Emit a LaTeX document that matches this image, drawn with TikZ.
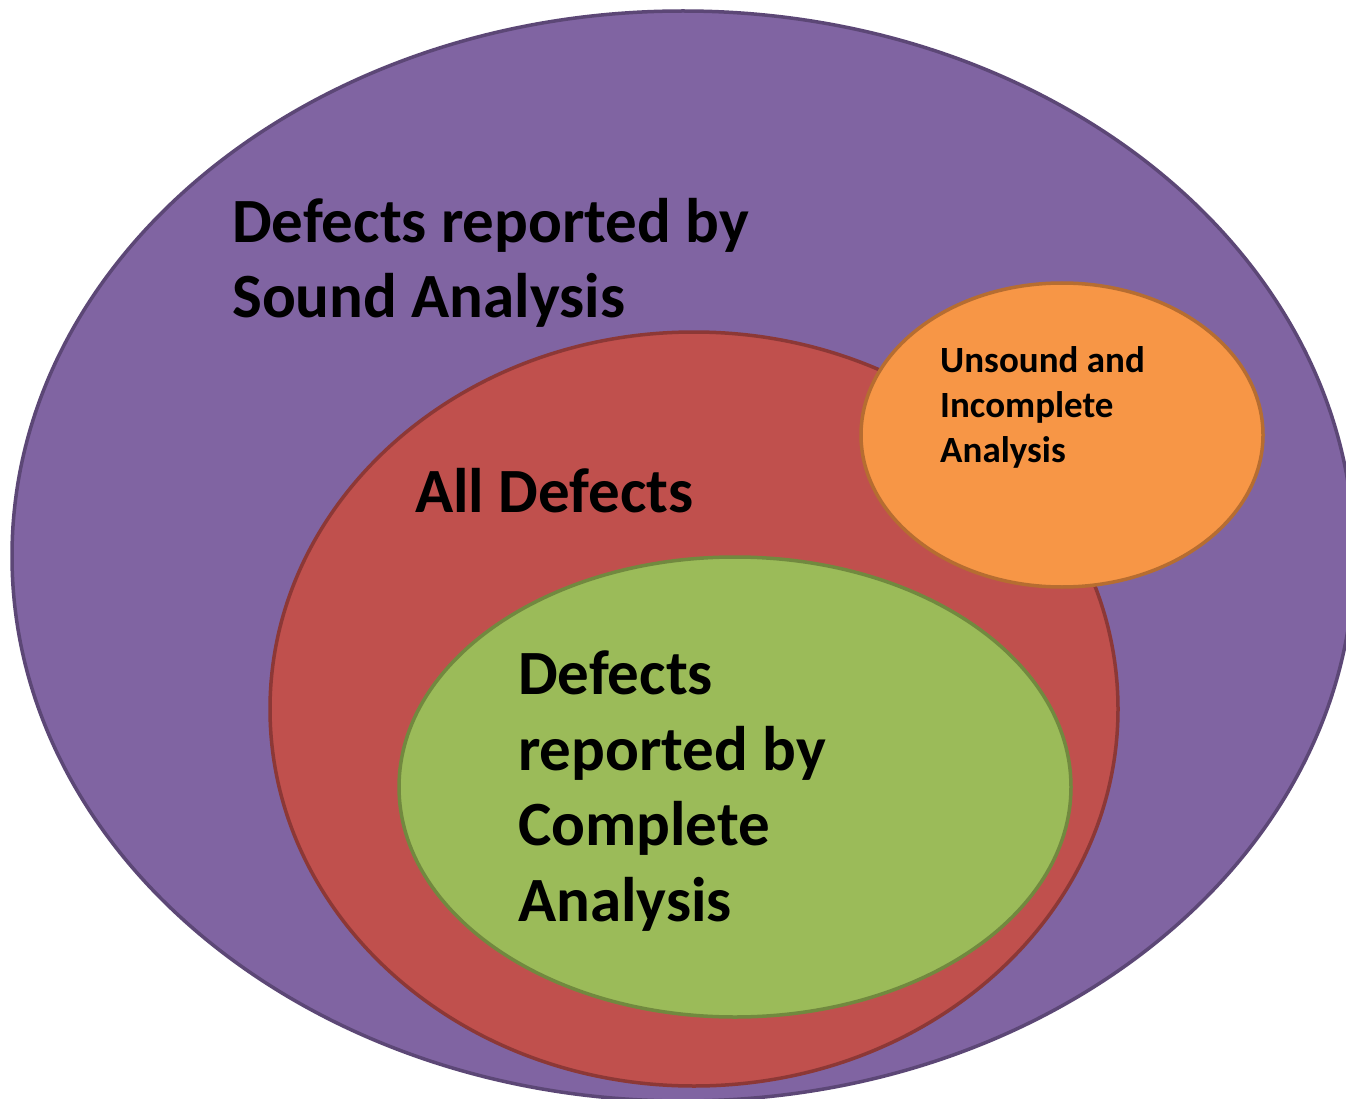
\documentclass[tikz,border=0pt]{standalone}
\usepackage{fontspec}
\setmainfont{Carlito}
\definecolor{purpfill}{HTML}{8064A2}
\definecolor{purpline}{HTML}{5C4776}
\definecolor{redfill}{HTML}{C0504D}
\definecolor{redline}{HTML}{8C3836}
\definecolor{greenfill}{HTML}{9BBB59}
\definecolor{greenline}{HTML}{71893F}
\definecolor{orangefill}{HTML}{F79646}
\definecolor{orangeline}{HTML}{B66D31}
\tikzset{
  setshape/.style={line width=3.5pt},
  bigtext/.style={font=\fontsize{63}{75.5}\selectfont\bfseries, align=left, anchor=north west, inner sep=0pt, text=black},
  smalltext/.style={font=\fontsize{37}{45}\selectfont\bfseries, align=left, anchor=north west, inner sep=0pt, text=black}
}
\begin{document}
\begin{tikzpicture}[x=1pt,y=-1pt]
\clip (0,0) rectangle (1346,1099);
\fill[white] (0,0) rectangle (1346,1099);
\path[setshape, fill=purpfill, draw=purpline] (683,556) ellipse [x radius=671, y radius=545];
\path[setshape, fill=redfill, draw=redline] (694,709) ellipse [x radius=424, y radius=377];
\path[setshape, fill=greenfill, draw=greenline] (735,787) ellipse [x radius=336, y radius=230];
\path[setshape, fill=orangefill, draw=orangeline] (1062,435) ellipse [x radius=201, y radius=152];
\node[bigtext] (sound) at (232,198) {Defects reported by\\Sound Analysis};
\node[bigtext] (all) at (415,468) {All Defects};
\node[bigtext] (complete) at (518,651) {Defects\\reported by\\Complete\\Analysis};
\node[smalltext] (unsound) at (940,346) {Unsound and\\Incomplete\\Analysis};
\end{tikzpicture}
\end{document}
